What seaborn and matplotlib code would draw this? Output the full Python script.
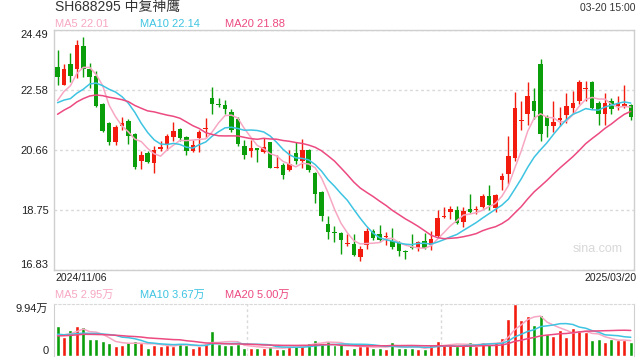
import numpy as np
import pandas as pd
import matplotlib
matplotlib.use("Agg")
import matplotlib.pyplot as plt
import seaborn as sns

title = "SH688295 中复神鹰"
stamp = "03-20 15:00"
first_day = "2024/11/06"
last_day = "2025/03/20"
price_ma_text = ["MA5 22.01", "MA10 22.14", "MA20 21.88"]
vol_ma_text = ["MA5 2.95万", "MA10 3.67万", "MA20 5.00万"]
price_ticks = [16.83, 18.75, 20.66, 22.58, 24.49]
vol_top = 9.94

# daily candles, 2024/11/06 .. 2025/03/20
open_ = [23.30, 22.74, 23.39, 23.23, 23.99, 23.23, 23.02, 22.13, 21.51, 20.91,
         21.42, 21.59, 21.16, 20.30, 20.57, 20.25, 20.68, 20.83, 21.06, 21.33,
         21.06, 20.62, 21.04, 21.33, 22.32, 22.13, 22.10, 21.87, 21.66, 20.78,
         20.64, 20.71, 20.60, 20.91, 20.10, 20.17, 20.02, 20.57, 20.32, 20.67,
         19.94, 19.31, 18.30, 18.04, 18.02, 17.66, 17.67, 17.25, 17.62, 18.09,
         17.98, 17.87, 17.77, 17.69, 17.45, 17.56, 17.53, 17.77, 17.62, 17.90,
         18.53, 18.67, 18.73, 18.35, 18.78, 18.75, 18.84, 19.18, 18.82, 19.70,
         19.88, 20.39, 21.60, 21.80, 22.22, 23.42, 21.72, 21.43, 21.61, 21.78,
         22.01, 22.22, 22.61, 22.82, 22.16, 21.80, 22.22, 22.08, 22.08, 22.10]
high = [23.84, 23.42, 23.76, 24.18, 24.28, 23.45, 23.18, 22.17, 21.54, 21.45,
        21.70, 21.64, 21.19, 20.62, 20.64, 20.78, 20.95, 21.16, 21.54, 21.37,
        21.12, 20.98, 21.30, 21.69, 22.66, 22.32, 22.24, 21.98, 21.72, 20.98,
        20.98, 20.72, 21.04, 20.93, 20.51, 20.25, 20.67, 20.91, 21.02, 20.70,
        19.97, 19.36, 18.55, 18.23, 18.05, 17.98, 17.98, 17.61, 18.16, 18.13,
        18.26, 18.05, 18.16, 17.74, 17.48, 17.98, 17.77, 18.02, 18.09, 18.74,
        18.84, 18.87, 18.86, 18.84, 19.26, 18.86, 19.24, 19.54, 19.26, 19.92,
        21.12, 22.52, 22.23, 22.84, 22.63, 23.57, 21.77, 22.23, 22.03, 22.47,
        22.55, 22.90, 22.85, 22.85, 22.21, 22.47, 22.31, 22.37, 22.73, 22.13]
low = [22.73, 22.73, 22.83, 22.95, 22.98, 22.64, 22.03, 21.22, 20.82, 20.83,
       21.30, 20.85, 20.04, 20.04, 20.25, 19.91, 20.64, 20.67, 20.95, 20.95,
       20.51, 20.60, 20.60, 21.05, 21.80, 22.03, 21.80, 21.25, 20.78, 20.38,
       20.44, 20.27, 20.57, 20.07, 20.09, 19.73, 19.99, 20.22, 20.07, 19.97,
       18.96, 18.40, 17.81, 17.71, 17.35, 17.61, 17.27, 17.13, 17.51, 17.79,
       17.72, 17.62, 17.51, 17.29, 17.18, 17.50, 17.45, 17.50, 17.48, 17.87,
       18.48, 18.46, 18.31, 18.21, 18.66, 18.63, 18.82, 18.76, 18.68, 19.37,
       19.59, 20.31, 21.30, 21.47, 21.66, 20.95, 21.09, 21.25, 21.43, 21.51,
       21.82, 22.14, 22.21, 21.96, 21.45, 21.45, 21.82, 21.93, 22.00, 21.61]
close = [22.98, 23.23, 23.02, 24.02, 23.23, 22.98, 22.08, 21.27, 20.91, 21.38,
         21.51, 21.12, 20.12, 20.51, 20.28, 20.67, 20.74, 21.11, 21.27, 21.04,
         20.64, 20.82, 21.22, 21.36, 22.13, 22.10, 21.98, 21.30, 20.86, 20.49,
         20.72, 20.67, 20.75, 20.09, 20.13, 19.85, 20.22, 20.32, 20.67, 20.01,
         19.24, 18.55, 18.03, 18.02, 17.79, 17.69, 17.30, 17.51, 18.09, 17.84,
         17.79, 17.90, 17.58, 17.43, 17.42, 17.53, 17.71, 17.53, 17.83, 18.50,
         18.56, 18.79, 18.34, 18.71, 18.68, 18.78, 19.18, 18.91, 19.23, 19.84,
         20.46, 22.00, 21.63, 22.38, 21.91, 21.16, 21.43, 21.56, 21.69, 22.06,
         22.17, 22.82, 22.64, 22.00, 21.80, 22.17, 21.98, 22.17, 22.13, 21.70]
# volume in 万 shares
volume = [5.77, 3.72, 4.94, 5.77, 5.58, 3.27, 3.27, 2.89, 2.57, 1.92,
          2.12, 2.69, 2.89, 2.57, 1.47, 2.12, 1.92, 2.12, 1.92, 2.50,
          2.12, 1.47, 1.86, 2.57, 4.81, 2.24, 2.12, 2.12, 2.37, 1.47,
          1.47, 1.47, 1.47, 1.92, 1.35, 1.35, 1.92, 1.92, 2.37, 2.50,
          3.08, 2.50, 2.89, 2.12, 2.24, 1.35, 1.47, 1.92, 2.12, 1.60,
          1.60, 1.35, 2.69, 1.47, 1.60, 1.60, 1.35, 1.35, 2.24, 2.89,
          2.24, 2.12, 1.92, 2.12, 2.69, 1.92, 2.69, 2.24, 2.60, 3.50,
          7.00, 9.94, 6.80, 7.60, 6.00, 7.80, 4.20, 3.90, 5.00, 3.70,
          5.30, 5.00, 4.60, 3.00, 3.20, 2.60, 3.30, 3.10, 3.00, 2.70]
# sessions before the window, only needed to start the moving averages
prior_close = [20.60, 20.85, 20.95, 21.10, 21.30, 21.45, 21.70, 21.90, 22.10, 22.35,
               22.40, 22.55, 22.30, 21.95, 21.30, 21.80, 22.10, 22.05, 22.27]
prior_volume = [3.2, 3.6, 3.9, 3.3, 3.5, 3.8, 3.4, 3.6, 3.3, 3.7,
                4.8, 4.1, 4.5, 4.6, 3.8, 3.4, 3.9, 3.6, 3.2]

up_color = "#f21b0e"
down_color = "#0b9e0b"
ma_colors = ["#f7a7c3", "#3ec4e2", "#ec4a80"]
grid_color = "#d9d9d9"
frame_color = "#cfcfcf"

n = len(close)
days = np.arange(n)
df = pd.DataFrame({"day": days, "open": open_, "high": high, "low": low,
                   "close": close, "vol": volume})
df["dir"] = np.where(df["close"] >= df["open"], "up", "down")
colors = df["dir"].map({"up": up_color, "down": down_color})

full_close = pd.Series(prior_close + close)
full_vol = pd.Series(prior_volume + volume)
k = len(prior_close)
for w in (5, 10, 20):
    df[f"ma{w}"] = full_close.rolling(w).mean().iloc[k:].values
    df[f"vma{w}"] = full_vol.rolling(w).mean().iloc[k:].values

sns.set_style("white")
plt.rcParams["font.family"] = ["Liberation Sans", "Noto Sans CJK SC", "DejaVu Sans"]

fig = plt.figure(figsize=(6.4, 3.6), dpi=100)
ax = fig.add_axes([54 / 640, 1 - 270 / 360, 580 / 640, 240 / 360])
axv = fig.add_axes([54 / 640, 1 - 356 / 360, 580 / 640, 52 / 360])
xlim = (-0.55, n - 0.5)

# price panel
ax.vlines(df["day"], df["low"], df["high"], colors=colors, linewidth=1, zorder=2)
body_low = np.minimum(df["open"], df["close"])
body_h = np.maximum((df["close"] - df["open"]).abs(), 0.025)
ax.bar(df["day"], body_h, bottom=body_low, width=0.7, color=colors, linewidth=0, zorder=3)
for w, c in zip((5, 10, 20), ma_colors):
    sns.lineplot(data=df, x="day", y=f"ma{w}", ax=ax, color=c, linewidth=1.1, zorder=4)

ax.set_xlim(*xlim)
ax.set_ylim(price_ticks[0], price_ticks[-1])
ax.set_yticks(price_ticks)
ax.set_yticklabels([f"{t:.2f}" for t in price_ticks], fontsize=8, color="#222222")
labels = ax.get_yticklabels()
labels[0].set_verticalalignment("bottom")
labels[-1].set_verticalalignment("top")
ax.tick_params(axis="y", length=0, pad=4)
ax.set_xticks([])
ax.set_xlabel("")
ax.set_ylabel("")
ax.grid(axis="y", color=grid_color, linestyle=(0, (2, 2)), linewidth=1)
for s in ax.spines.values():
    s.set_color(frame_color)
    s.set_linewidth(1)
ax.text(0.981, 0.088, "sina.com", transform=ax.transAxes, ha="right", va="center",
        fontsize=9, color="#d8d8d8")

# volume panel
sns.barplot(data=df, x="day", y="vol", hue="dir", palette={"up": up_color, "down": down_color},
            dodge=False, legend=False, width=0.62, saturation=1, ax=axv, zorder=2)
for w, c in zip((5, 10, 20), ma_colors):
    sns.lineplot(x=days, y=df[f"vma{w}"], ax=axv, color=c, linewidth=1.1, zorder=4)
axv.set_xlim(*xlim)
axv.set_ylim(0, vol_top)
axv.set_yticks([0, vol_top])
axv.set_yticklabels(["0", f"{vol_top:.2f}万"], fontsize=8, color="#222222")
vl = axv.get_yticklabels()
vl[0].set_verticalalignment("bottom")
vl[1].set_verticalalignment("top")
axv.tick_params(axis="y", length=0, pad=4)
axv.set_xticks([])
axv.set_xlabel("")
axv.set_ylabel("")
span = xlim[1] - xlim[0]
for f in (1 / 3, 2 / 3):
    axv.axvline(xlim[0] + f * span, color=grid_color, linestyle=(0, (2, 2)), linewidth=1, zorder=1)
axv.spines["bottom"].set_visible(False)
axv.spines["top"].set_color(grid_color)
axv.spines["top"].set_linestyle((0, (2, 2)))
for s in ("left", "right"):
    axv.spines[s].set_color(frame_color)

# header and footer texts
fig.text(55 / 640, 1 - 7 / 360, title, fontsize=10, color="#333333", va="center")
fig.text(636 / 640, 1 - 8 / 360, stamp, fontsize=7.5, color="#333333", va="center", ha="right")
for xp, txt, c in zip((55, 140, 225), price_ma_text, ma_colors):
    fig.text(xp / 640, 1 - 24 / 360, txt, fontsize=8, color=c, va="center")
for xp, txt, c in zip((55, 140, 225), vol_ma_text, ma_colors):
    fig.text(xp / 640, 1 - 295 / 360, txt, fontsize=8, color=c, va="center")
fig.text(55 / 640, 1 - 278 / 360, first_day, fontsize=7.5, color="#222222", va="center")
fig.text(637 / 640, 1 - 278 / 360, last_day, fontsize=7.5, color="#222222", va="center", ha="right")

fig.savefig("out.png", dpi=100)
